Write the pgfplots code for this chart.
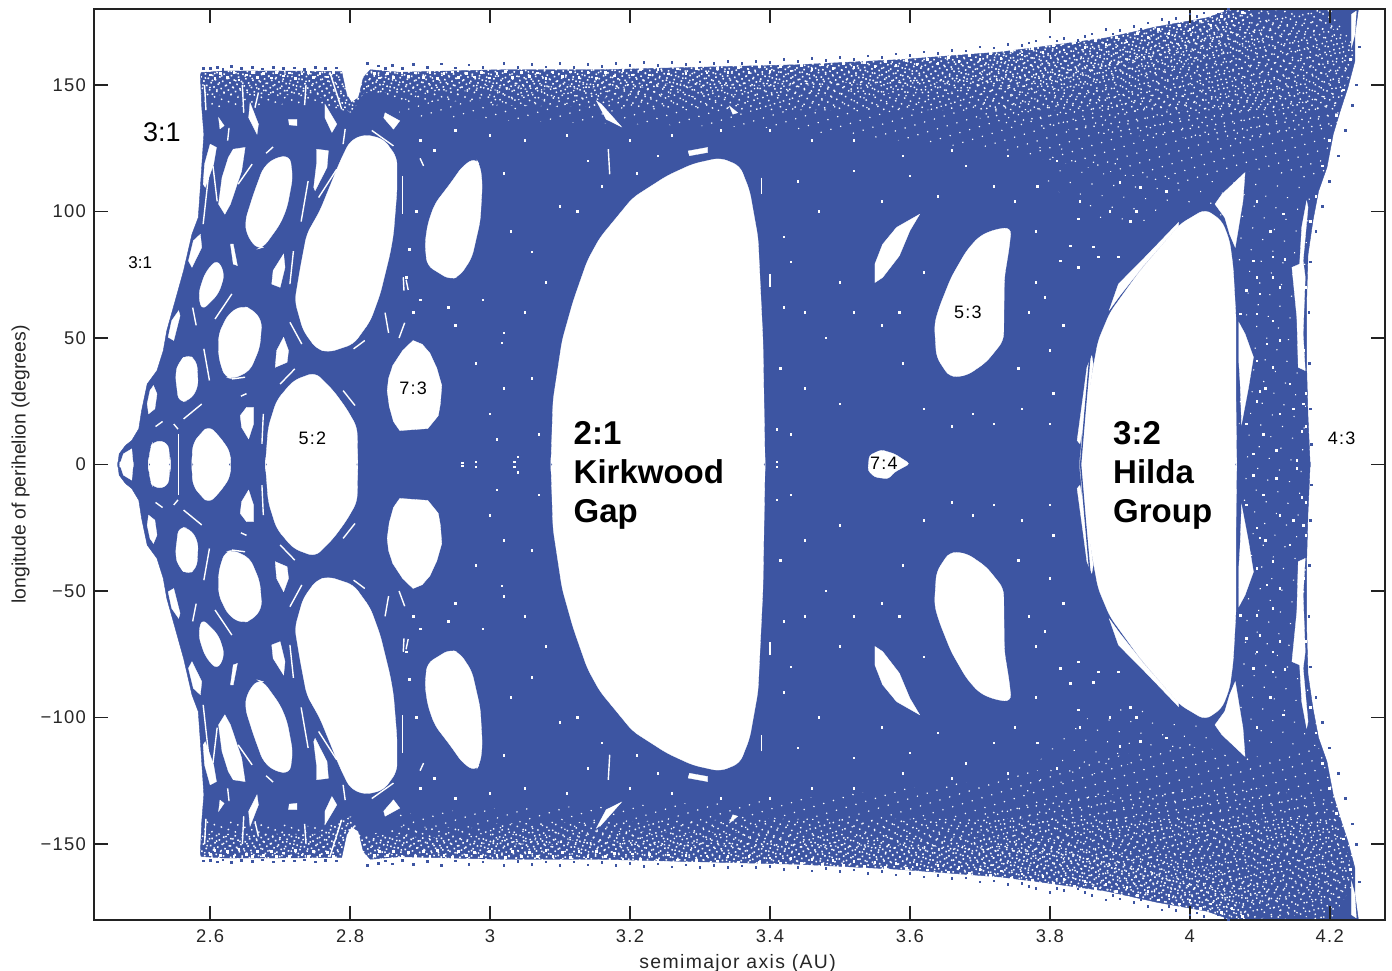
\documentclass[border=0pt]{standalone}
\usepackage{fontspec}
\setmainfont{Liberation Sans}
\newfontfamily\spaced[LetterSpace=7]{Liberation Sans}
\usepackage{pgfplots}
\pgfplotsset{compat=1.18}
\usetikzlibrary{patterns.meta}
\definecolor{orbit}{HTML}{3D55A2}
\definecolor{axc}{HTML}{222222}
\newcommand\hole[1]{%
 \addplot[fill=white,draw=white,line width=0.15pt,rounded corners=3.5pt,forget plot] coordinates {#1} -- cycle;
 \addplot[fill=white,draw=white,line width=0.15pt,rounded corners=3.5pt,forget plot,y filter/.expression={-y}] coordinates {#1} -- cycle;}
\newcommand\sliver[1]{%
 \addplot[fill=white,draw=white,line width=0.15pt,forget plot] coordinates {#1} -- cycle;
 \addplot[fill=white,draw=white,line width=0.15pt,forget plot,y filter/.expression={-y}] coordinates {#1} -- cycle;}
\newcommand\one[1]{\addplot[fill=white,draw=white,line width=0.15pt,rounded corners=1.5pt,forget plot] coordinates {#1} -- cycle;}
\newcommand\slit[1]{%
 \addplot[draw=white,line width=0.7pt,forget plot] coordinates {#1};
 \addplot[draw=white,line width=0.7pt,forget plot,y filter/.expression={-y}] coordinates {#1};}
\newcommand\body[1]{%
 \addplot[fill=orbit,draw=orbit,line width=0.2pt,forget plot] coordinates {#1} -- cycle;
 \addplot[fill=orbit,draw=orbit,line width=0.2pt,forget plot,y filter/.expression={-y}] coordinates {#1} -- cycle;}
\newcommand\band[2]{%
 \addplot[draw=none,pattern={#1},pattern color=white,forget plot] coordinates {#2} -- cycle;
 \addplot[draw=none,pattern={#1},pattern color=white,forget plot,y filter/.expression={-y}] coordinates {#2} -- cycle;}
\newcommand\specks[2]{%
 \addplot[only marks,color=#1,mark=square*,mark size=0.42pt,forget plot] coordinates {#2};
 \addplot[only marks,color=#1,mark=square*,mark size=0.42pt,forget plot,y filter/.expression={-y}] coordinates {#2};}
\begin{document}
\begin{tikzpicture}
\path[use as bounding box] (-47pt,-25pt) rectangle (649pt,460pt);
\begin{axis}[
 at={(0pt,0pt)},anchor=south west,
 name=main,
 scale only axis,width=645.5pt,height=455.5pt,
 xmin=2.434,xmax=4.279,ymin=-180,ymax=180,
 axis on top,
 axis line style={axc,line width=0.9pt},
 tick style={axc,line width=0.8pt},
 major tick length=7pt,
 tick align=inside,
 xtick={2.6,2.8,3,3.2,3.4,3.6,3.8,4,4.2},
 xticklabels={2.6,2.8,3,3.2,3.4,3.6,3.8,4,4.2},
 ytick={-150,-100,-50,0,50,100,150},
 yticklabels={−150,−100,−50,0,50,100,150},
 tick label style={font=\spaced\fontsize{9.2}{11}\selectfont,text=black!85},
 xlabel={semimajor axis (AU)},
 ylabel={longitude of perihelion (degrees)},
 xlabel style={font=\spaced\fontsize{9.7}{11}\selectfont,text=black!85,at={(axis description cs:0.4985,0)},anchor=north,yshift=-17pt,inner sep=0pt},
 ylabel style={font=\fontsize{9.7}{11}\selectfont,text=black!85,at={(axis description cs:0,0.5)},anchor=south,rotate=0,yshift=32pt,inner sep=0pt},
 xticklabel style={yshift=-1.5pt},
 yticklabel style={xshift=-0.5pt},
]
% main cloud of orbits
\body{(2.468,-1)(2.468,0)(2.470,4.2)(2.479,7.5)(2.488,9.5)(2.498,14.1)(2.502,21.3)(2.510,31.8)(2.524,37.1)(2.533,45)(2.538,52.9)(2.550,64.7)(2.562,76.6)(2.574,91)(2.583,97.6)(2.586,109.5)(2.591,130.5)(2.588,141)(2.586,153.6)(2.587,154.9)(2.62,155.5)(2.70,155.5)(2.788,155.3)(2.795,146.3)(2.802,143)(2.812,145)(2.819,153)(2.829,156)(2.871,155)(3.014,156)(3.157,156)(3.3,157)(3.443,158)(3.586,160)(3.729,163)(3.786,165)(3.881,168.6)(3.953,173)(4.024,176.5)(4.071,181)(4.241,181)(4.241,179.9)(4.236,170)(4.236,159.5)(4.226,149)(4.215,139.7)(4.205,130.5)(4.196,117.4)(4.184,108)(4.176,96.3)(4.169,83)(4.167,64.7)(4.167,38.4)(4.169,18.7)(4.172,0)(4.172,-1)}
% grainy bands near the rim
\band{Dots[distance=2.6pt,angle=33,radius=0.55pt]}{(2.587,156)(2.788,156)(2.795,147)(2.802,144)(2.812,146)(2.819,154)(2.829,157)(3.014,157)(3.3,158)(3.443,159)(3.586,161)(3.729,164)(3.881,170)(3.953,174)(4.024,178)(4.071,181)(4.10,181)(4.06,170)(3.95,161)(3.8,152)(3.5,150)(3.2,149)(2.87,147)(2.82,147)(2.802,139)(2.75,146)(2.62,146)(2.587,146)}
\band{Dots[distance=3.7pt,angle=71,radius=0.5pt]}{(2.587,156)(2.788,156)(2.795,147)(2.802,144)(2.812,146)(2.819,154)(2.829,157)(3.014,157)(3.3,158)(3.443,159)(3.586,161)(3.729,164)(3.881,170)(3.953,174)(4.024,178)(4.071,181)(4.16,181)(4.10,165)(3.95,155)(3.8,148)(3.5,146)(3.2,145)(2.87,143)(2.82,147)(2.802,139)(2.75,143)(2.62,141)(2.587,141)}
\band{Dots[distance=3.3pt,angle=62,radius=0.5pt]}{(3.0,150)(3.5,151)(3.8,154)(3.95,163)(4.06,172)(4.2,181)(4.235,160)(4.21,140)(4.1,140)(3.9,140)(3.7,140)(3.4,140)(3.0,142)}
\band{Dots[distance=4.3pt,angle=9,radius=0.45pt]}{(3.7,165)(3.95,170)(4.06,178)(4.2,181)(4.235,165)(4.21,133)(4.1,128)(3.9,130)(3.7,136)}
\band{Dots[distance=5.1pt,angle=17,radius=0.42pt]}{(2.87,147)(3.0,150)(3.5,151)(3.8,154)(4.06,172)(4.235,172)(4.235,155)(4.205,130)(4.19,112)(4.08,116)(4.0,110)(3.9,115)(3.7,125)(3.4,133)(3.0,136)(2.87,138)}
\band{Dots[distance=7.7pt,angle=41,radius=0.4pt]}{(3.76,130)(4.0,112)(4.07,112)(4.19,112)(4.166,60)(4.166,-1)(4.07,-1)(4.07,90)(4.0,103)(3.9,92)(3.8,110)}
% resonance gaps
\hole{(3.087,-1)(3.087,0)(3.09,25.3)(3.103,49)(3.119,64.7)(3.139,80.5)(3.157,89.6)(3.204,105.4)(3.253,114.1)(3.29,118.8)(3.329,121.2)(3.357,118)(3.371,108.2)(3.383,89.6)(3.39,49)(3.393,0)(3.393,-1)}
\hole{(3.843,-1)(3.843,0)(3.846,12.1)(3.862,38.4)(3.869,48.9)(3.886,60.1)(3.929,76.6)(3.986,95)(4.022,100.9)(4.046,96.3)(4.057,88.4)(4.062,77.9)(4.066,58.2)(4.066,25.3)(4.067,0)(4.067,-1)}
\hole{(2.679,-1)(2.679,0)(2.683,14.7)(2.695,25.3)(2.719,33.2)(2.750,36.4)(2.776,29.2)(2.795,22)(2.810,14.7)(2.811,0)(2.811,-1)}
\hole{(2.574,-1)(2.574,0)(2.575,8.2)(2.586,12.1)(2.598,15.4)(2.614,10.8)(2.629,4.9)(2.629,0)(2.629,-1)}
\hole{(2.512,-1)(2.512,0)(2.514,6.2)(2.519,9.5)(2.540,8.8)(2.543,0)(2.543,-1)}
\sliver{(2.471,-1)(2.471,0)(2.476,4.2)(2.488,6.2)(2.49,0)(2.49,-1)}
\hole{(2.821,130.5)(2.848,128.6)(2.867,121.3)(2.867,108.2)(2.862,91)(2.857,83.2)(2.843,67.4)(2.829,56.8)(2.805,47.6)(2.769,44.3)(2.752,45.7)(2.733,52.9)(2.721,64.7)(2.729,77.9)(2.738,91)(2.757,100.3)(2.786,120)(2.800,127.9)}
\hole{(2.714,122)(2.718,113.4)(2.710,101.6)(2.700,95)(2.676,85.8)(2.667,85.1)(2.652,91)(2.650,96.3)(2.662,106.8)(2.676,117.4)(2.693,121.3)}
\sliver{(2.633,124.6)(2.650,125.3)(2.645,116)(2.629,102.9)(2.621,98.9)(2.612,102.9)(2.617,113.4)(2.626,121.3)}
\sliver{(2.6,126.6)(2.609,125.3)(2.605,118.7)(2.593,109.5)(2.590,110.8)(2.592,118.7)}
\sliver{(2.752,124.6)(2.769,124)(2.767,117.4)(2.750,108.2)(2.748,109.5)(2.752,118.7)}
\sliver{(2.657,143)(2.669,134.5)(2.667,130.5)(2.655,137.1)}
\sliver{(2.764,142.4)(2.781,134.5)(2.774,131.2)(2.764,137.1)}
\sliver{(2.85,139)(2.871,135.8)(2.862,132.5)(2.848,137)}
\sliver{(2.612,137.1)(2.62,133.9)(2.614,132.6)}
\sliver{(2.712,136.4)(2.724,136.4)(2.724,133.9)(2.713,134.2)}
\hole{(2.61,81.2)(2.621,75.3)(2.612,67.4)(2.588,60.8)(2.583,67.4)(2.593,75.9)}
\sliver{(2.586,91)(2.588,85.8)(2.574,77.9)(2.569,80.5)(2.576,88.4)}
\hole{(2.645,62.8)(2.660,61.4)(2.674,56.8)(2.671,46.3)(2.657,37.1)(2.633,33.8)(2.621,34.5)(2.612,42.4)(2.612,51.6)(2.626,59.5)}
\sliver{(2.705,83.2)(2.707,77.9)(2.700,70)(2.688,71.3)(2.690,76.6)}
\sliver{(2.629,87.1)(2.633,87.1)(2.639,78.6)(2.633,79.2)}
\sliver{(2.555,60.8)(2.557,58.8)(2.548,49)(2.540,50.3)(2.545,56.8)}
\hole{(2.567,43.7)(2.581,41)(2.583,30.5)(2.571,25.3)(2.555,24.6)(2.55,35.8)(2.555,40.4)}
\sliver{(2.519,31.2)(2.524,27.9)(2.521,22)(2.512,20)(2.51,24)(2.514,29.2)}
\sliver{(2.705,50.3)(2.712,45)(2.710,40.4)(2.693,38.4)(2.695,45)}
\sliver{(2.652,22.6)(2.662,22.6)(2.662,16)(2.655,10.1)(2.645,14.7)(2.643,19.3)}
\sliver{(2.89,49)(2.903,47.5)(2.914,44)(2.924,38)(2.931,31.2)(2.929,24)(2.926,19.3)(2.911,14.2)(2.871,13.4)(2.862,17)(2.856,23)(2.853,29.2)(2.855,34)(2.861,39.1)(2.875,45)}
\hole{(2.979,121.2)(2.986,118)(2.989,110.9)(2.986,96.3)(2.974,81.7)(2.957,74.6)(2.943,73)(2.91,78.6)(2.907,87.3)(2.911,95.1)(2.921,103)(2.943,110.9)(2.961,118)}
\hole{(3.745,93.7)(3.742,85.8)(3.735,73.9)(3.734,49)(3.709,40.4)(3.681,35.1)(3.657,34.5)(3.638,42.4)(3.635,55.5)(3.642,62.1)(3.659,73.9)(3.681,84.5)(3.7,90.4)(3.723,93)}
\sliver{(3.614,98.9)(3.6,92.4)(3.585,82.5)(3.561,73.9)(3.55,71.9)(3.55,79.2)(3.561,87)(3.581,93.7)}
\one{(3.559,5.8)(3.578,4.2)(3.6,0.3)(3.578,-3)(3.569,-5.7)(3.55,-5)(3.54,-2.4)(3.542,3.6)}
% Hilda slivers
\sliver{(3.86,43)(3.862,39.7)(3.855,25.3)(3.843,8.2)(3.839,9.5)(3.848,27.9)(3.853,38.4)}
\sliver{(3.984,95.7)(3.929,79.9)(3.898,71.3)(3.885,61)(3.9,66.7)(3.934,78.6)(3.984,94.3)}
\sliver{(4.079,115.4)(4.076,104.2)(4.065,85.8)(4.057,91)(4.05,97.6)(4.036,102.9)(4.046,106.8)}
\sliver{(4.07,56.2)(4.079,51.6)(4.091,42.4)(4.084,30.5)(4.074,16)(4.072,31.8)(4.07,41)}
\sliver{(4.167,104.2)(4.169,101.6)(4.162,80.5)(4.165,74)(4.162,51.6)(4.165,37.1)(4.155,38.4)(4.153,58.2)(4.146,77.9)(4.157,79.2)(4.16,93.8)}
\sliver{(4.231,177.9)(4.238,179.2)(4.236,170)(4.231,164.7)}
\sliver{(3.152,143.7)(3.159,142.4)(3.188,133.4)(3.166,136.4)}
\sliver{(3.283,123.9)(3.311,125.3)(3.311,123.3)(3.285,122)}
\sliver{(3.342,141.7)(3.354,139)(3.347,138.4)}
% thin gaps between bundles of orbits
\slit{(2.7,31.8)(2.721,37.8)}
\slit{(2.562,18)(2.588,23.9)}
\slit{(2.714,56.2)(2.731,47.6)}
\slit{(2.805,45.7)(2.821,49)}
\slit{(2.607,57.5)(2.631,67.4)}
\slit{(2.591,45.7)(2.599,33.2)}
\slit{(2.79,29.2)(2.807,23.3)}
\slit{(2.755,105.5)(2.781,116.7)}
\slit{(2.640,110.8)(2.660,118.7)}
\slit{(2.831,132)(2.862,125.9)}
\slit{(2.793,132.6)(2.79,126.6)}
\slit{(2.771,155)(2.788,140.4)}
\slit{(2.876,74)(2.877,68.7)}
\slit{(2.875,109)(2.875,99)}
\slit{(2.555,12.1)(2.555,0)}
\slit{(2.676,20)(2.674,8.2)}
\slit{(2.719,84.3)(2.714,71.3)}
\slit{(2.669,147)(2.664,141)}
\slit{(2.646,150)(2.648,139)}
\slit{(2.592,150)(2.594,140)}
\slit{(3.169,124.6)(3.171,114.7)}
\slit{(3.388,113.4)(3.388,106.8)}
\slit{(3.4,75.3)(3.4,70)}
\slit{(2.9,121)(2.905,118)}
\slit{(2.875,114)(2.875,105)}
\slit{(2.522,15)(2.532,17)}
\slit{(2.548,16)(2.554,14)}
\slit{(2.631,33.8)(2.65,34.5)}
\slit{(2.644,27)(2.652,28)}
\slit{(2.88,73)(2.883,69)}
\slit{(2.604,118)(2.61,104)}
\slit{(2.575,62)(2.58,55)}
\slit{(2.59,95)(2.6,120)}
\slit{(2.73,96)(2.74,112)}
\slit{(2.68,123)(2.69,125.5)}
\slit{(2.625,128)(2.627,133)}
\slit{(2.735,142)(2.737,150)}
\slit{(2.85,60)(2.855,52)}
\slit{(2.87,50)(2.878,56)}
% blue orbit lines crossing the Hilda gap edge
\addplot[draw=orbit,line width=0.7pt,forget plot] coordinates {(3.858,45)(3.85,20)(3.844,0)(3.85,-20)(3.858,-45)};
% specks inside the cloud
\specks{white}{(3.9,111.4)(3.929,109.5)(3.967,108)(3.843,104)(3.886,100)(3.924,100)(3.915,96)(3.869,82)(3.829,86.4)(3.898,82)(3.862,86)(3.841,97)(4.096,104)(4.134,99)(4.115,92)(4.091,80.5)(4.119,82)(4.136,81)(4.096,74)(4.119,74)(4.081,68.7)(4.1,67.4)(4.129,70)(4.072,59.5)(4.096,59.5)(4.119,56.8)(4.11,47.6)(4.129,49)(4.096,41)(4.119,38.4)(4.143,31.8)(4.1,29)(4.108,30)(4.129,20)(4.096,25)(4.081,16)(4.105,12)(4.124,5.5)(4.091,4.2)(4.153,1.6)(4.16,13)(4.162,24)(4.148,22)(4.166,28)(3.805,28)(3.8,16)(3.819,55)(3.793,66)(3.815,80.5)(3.841,78)(3.78,92)(3.75,104)(3.72,110)(3.68,118)(3.64,106)(3.6,114)(3.56,104)(3.52,116)(3.47,100)(3.44,112)(3.43,80)(3.5,72)(3.48,50)(3.52,60)(3.45,30)(3.43,12)(3.5,24)(3.62,22)(3.66,15)(3.59,40)(3.56,55)(3.585,60)(3.62,76)(3.77,60)(3.78,72)(3.755,38)(3.76,22)(3.69,20)(3.72,16)(3.8,45)(3.782,110)(3.81,120)(3.74,122)(3.66,124)(3.59,122)(3.52,128)(3.46,128)(3.4,132)(3.33,132)(3.26,130)(3.2,128)(3.14,120)(3.11,130)(3.05,128)(3.0,130)(2.95,132)(2.9,128)(2.92,124)(3.02,115)(3.03,92)(3.06,84)(3.08,72)(3.05,60)(3.02,52)(2.98,40)(3.0,20)(3.01,10)(3.04,3)(2.96,0.6)(2.98,1)(3.035,1)(3.06,34)(3.07,12)(2.95,55)(2.94,62)(2.99,65)(3.017,48)(3.02,30)(3.1,102)(3.125,100)(3.16,110)(3.21,115)(3.24,122)(2.89,60)(2.9,65)(2.88,74)(2.895,100)(2.885,85)(3.41,1)(3.41,14)(3.415,38)(3.42,62)(3.42,90)(3.45,60)
(2.6,154)(2.607,152.5)(2.615,154.5)(2.625,153)(2.634,155)(2.641,152)(2.652,154)(2.66,155)(2.668,153)(2.676,154.5)(2.688,152.8)(2.695,155)(2.705,153.5)(2.713,154.8)(2.722,152.5)(2.731,154.3)(2.74,155)(2.748,153)(2.757,154.5)(2.768,153.2)(2.776,155)(2.835,154.5)(2.842,152.8)(2.853,154.6)(2.862,153)(2.874,155)(2.883,153.4)(2.893,154.8)(2.905,153)(2.914,155)(2.925,152.6)(2.934,154.5)(2.946,155.2)(2.955,153)(2.966,154.6)(2.978,153.2)(2.988,155)(2.999,152.8)(3.01,154.6)(3.022,155.3)(3.032,153)(3.045,155)(3.056,153.4)(3.068,154.8)(3.08,152.6)(3.09,155)(3.103,153.3)(3.115,155.2)(3.127,153)(3.14,154.9)(3.152,152.8)(3.165,155)(3.178,153.6)(3.19,155.8)(3.203,153.9)(3.215,156)(3.228,154)(3.24,156.2)(3.255,154.3)(3.268,156.3)(3.28,154.6)(3.295,156.4)(3.31,154.7)(3.325,156.6)(3.34,155)(3.355,157)(3.37,155)(3.385,157.2)(3.4,155.4)(3.415,157.4)(3.43,155.6)(3.445,157.6)(3.46,156)(3.475,158)(3.49,156.4)(3.505,158.4)(3.52,156.8)(3.535,158.9)(3.55,157.2)(3.565,159.2)(3.58,157.6)(3.595,159.7)(3.61,158)(3.625,160.2)(3.64,158.5)(3.655,161)(3.67,159.2)(3.685,161.6)(3.7,160)(3.715,162.4)(3.73,160.6)(3.745,163.4)(3.76,161.8)(3.775,164.4)(3.79,162.8)(3.805,165.6)(3.82,163.8)(3.835,166.6)(3.85,164.8)(3.865,167.6)(3.88,166)(3.895,168.8)(3.91,167)(3.925,170.3)(3.94,168.7)(3.955,172)(3.97,170.3)(3.985,173.6)(4.0,172)(4.015,175.3)(4.03,173.6)(4.045,177)(4.06,175.3)(4.075,178.6)(4.23,160)(4.22,148)(4.21,138)(4.2,128)(4.19,118)(4.18,106)(4.172,96)(4.165,70)(4.163,45)(4.166,15)}
% grains beyond the solid rim
\specks{orbit}{(2.59,156.6)(2.61,157)(2.63,157.2)(2.66,156.8)(2.69,157)(2.72,156.7)(2.75,157)(2.78,156.7)(2.825,158.4)(2.84,157.5)(2.86,157.8)(2.89,158)(2.93,158.3)(2.97,157.9)(3.02,158.4)(3.06,158)(3.1,158.4)(3.14,158.2)(3.18,158.5)(3.22,158.8)(3.26,159)(3.3,159.1)(3.34,159.3)(3.38,159.2)(3.42,160)(3.46,160.6)(3.5,160.8)(3.54,161.5)(3.58,162.2)(3.62,163)(3.66,163.6)(3.7,165)(3.74,166)(3.78,167.4)(3.82,168.3)(3.86,170.2)(3.9,171.6)(3.94,174.5)(3.98,176.2)(4.02,178.5)(4.05,179)(3.76,165.5)(3.8,169)(3.84,167.7)(3.88,172)(3.92,173)(3.96,176)(4.0,178)
(2.6,156.4)(2.618,156.2)(2.645,156.5)(2.675,156.3)(2.705,156.6)(2.735,156.2)(2.765,156.5)(2.85,156.6)(2.875,156.4)(2.91,156.8)(2.95,156.7)(2.99,157)(3.04,156.9)(3.08,157.1)(3.12,157)(3.16,157.2)(3.2,157.6)(3.24,157.8)(3.28,158.2)(3.32,158.4)(3.36,158.6)(3.4,158.8)(3.44,159.2)(3.48,159.7)(3.52,160.2)(3.56,160.8)(3.6,161.6)(3.64,162.4)(3.68,163.4)(3.72,164.6)(3.77,166.6)(3.81,167.4)(3.85,169.2)(3.89,170.2)(3.93,172)(3.97,174.6)(4.01,177.2)(4.04,177.8)(4.055,180)
(4.238,150)(4.232,142)(4.222,132)(4.212,122)(4.2,112)(4.19,102)(4.18,92)(4.172,80)(4.17,60)(4.171,40)(4.172,22)(4.174,8)(4.242,165)}
% labels
\node[anchor=west,align=left,inner sep=0pt,font=\fontsize{16.5}{19.5}\selectfont\bfseries] at (axis cs:3.119,-4.2) {2:1\\Kirkwood\\Gap};
\node[anchor=west,align=left,inner sep=0pt,font=\fontsize{16.5}{19.5}\selectfont\bfseries] at (axis cs:3.89,-4.2) {3:2\\Hilda\\Group};
\node[font=\fontsize{13.5}{15}\selectfont] at (axis cs:2.531,131.5) {3:1};
\node[font=\fontsize{8.5}{10}\selectfont] at (axis cs:2.5,79.8) {3:1};
\node[font=\spaced\fontsize{9}{10}\selectfont] at (axis cs:2.746,10.3) {5:2};
\node[font=\spaced\fontsize{9}{10}\selectfont] at (axis cs:2.89,30) {7:3};
\node[font=\spaced\fontsize{9}{10}\selectfont] at (axis cs:3.563,0.4) {7:4};
\node[font=\spaced\fontsize{9}{10}\selectfont] at (axis cs:3.683,60) {5:3};
\node[font=\spaced\fontsize{9}{10}\selectfont] at (axis cs:4.217,10.3) {4:3};
\end{axis}
\end{tikzpicture}
\end{document}
